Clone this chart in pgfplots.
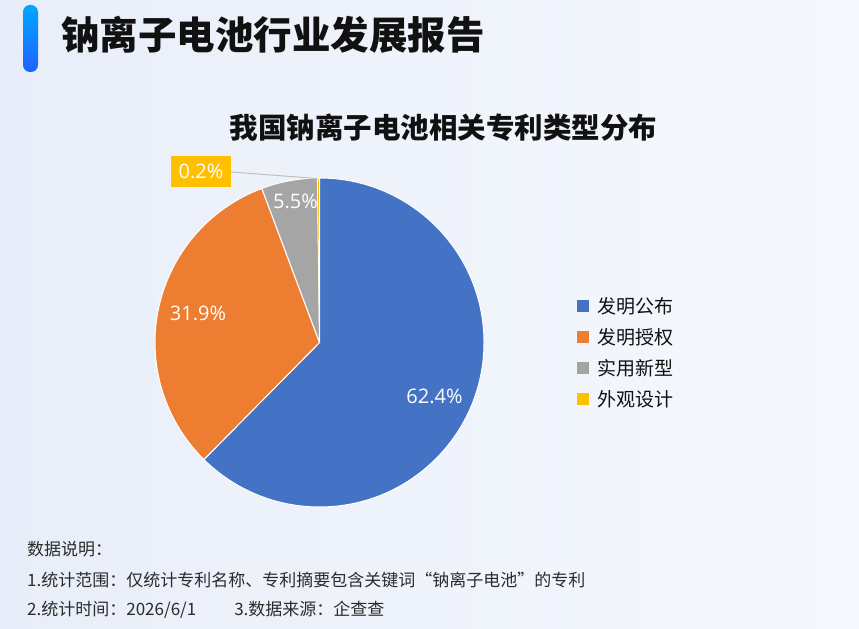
\documentclass[border=0pt]{standalone}
\usepackage{pgfplots}
\pgfplotsset{compat=1.18}
\usepackage{pgfplotstable}
\usepackage{fontspec}
\setmainfont{Noto Sans CJK SC}
\newfontfamily\lab{Open Sans}
\definecolor{cBlue}{HTML}{4472C4}
\definecolor{cOrange}{HTML}{ED7D31}
\definecolor{cGray}{HTML}{A5A5A5}
\definecolor{cYellow}{HTML}{FFC000}
\definecolor{bgL}{HTML}{E8EEF9}
\definecolor{bgR}{HTML}{F6F8FD}
\definecolor{barTop}{HTML}{00A6FF}
\definecolor{barBot}{HTML}{1F63FF}
\definecolor{txt}{HTML}{111111}
\definecolor{note}{HTML}{2B2B2B}
\pgfplotstableread{
pct
62.4
31.9
5.5
0.2
}\piedata
\begin{document}%
\begin{tikzpicture}
\pgfplotstablegetelem{0}{pct}\of\piedata\let\pA\pgfplotsretval
\pgfplotstablegetelem{1}{pct}\of\piedata\let\pB\pgfplotsretval
\pgfplotstablegetelem{2}{pct}\of\piedata\let\pC\pgfplotsretval
\pgfplotstablegetelem{3}{pct}\of\piedata\let\pD\pgfplotsretval
\pgfmathsetmacro\aA{90-3.6*\pA}
\pgfmathsetmacro\aB{\aA-3.6*\pB}
\pgfmathsetmacro\aC{\aB-3.6*\pC}
\pgfmathsetmacro\aD{\aC-3.6*\pD}
\useasboundingbox (0,0) rectangle (859bp,629bp);
\shade[left color=bgL, right color=bgR] (0,0) rectangle (859bp,629bp);
% title bar
\shade[top color=barTop, bottom color=barBot, rounded corners=7bp] (23bp,557bp) rectangle (38bp,624bp);
\node[anchor=west, inner sep=0pt, text=txt, font=\fontsize{38.5bp}{40bp}\selectfont\bfseries] at (61bp,594bp) {钠离子电池行业发展报告};
% chart title
\node[inner sep=0pt, text=txt, font=\fontsize{28.5bp}{30bp}\selectfont\bfseries] at (443.5bp,501.5bp) {我国钠离子电池相关专利类型分布};
% notes
\node[anchor=west, inner sep=0pt, text=note, font=\fontsize{17bp}{18bp}\selectfont] at (27bp,80bp) {数据说明：};
\node[anchor=west, inner sep=0pt, text=note, font=\fontsize{17bp}{18bp}\selectfont] at (27bp,49bp) {1.统计范围：仅统计专利名称、专利摘要包含关键词“钠离子电池”的专利};
\node[anchor=west, inner sep=0pt, text=note, font=\fontsize{17bp}{18bp}\selectfont] at (27bp,19bp) {2.统计时间：2026/6/1\hspace{38bp}3.数据来源：企查查};
\begin{axis}[
  at={(319.5bp,286.5bp)}, anchor=center,
  x=164.5bp, y=164.5bp,
  xmin=-1.1, xmax=1.1, ymin=-1.1, ymax=1.1,
  hide axis, clip=false,
  legend image code/.code={\fill[#1] (0bp,-6bp) rectangle (12bp,6bp);},
  legend style={at={(1.2113,0.625)}, anchor=north west, draw=none, fill=none,
    inner sep=0pt, row sep=13.5bp, column sep=8bp,
    font=\fontsize{19bp}{20bp}\selectfont,
    nodes={inner sep=0pt, anchor=west, text=txt}},
]
\addlegendimage{fill=cBlue, draw=none}
\addlegendentry{发明公布}
\addlegendimage{fill=cOrange, draw=none}
\addlegendentry{发明授权}
\addlegendimage{fill=cGray, draw=none}
\addlegendentry{实用新型}
\addlegendimage{fill=cYellow, draw=none}
\addlegendentry{外观设计}
\fill[cBlue, draw=white, line width=1bp, line join=round] (axis cs:0,0) -- (axis cs:{cos(90)},{sin(90)}) arc[start angle=90, end angle=\aA, radius=164.5bp] -- cycle;
\fill[cOrange, draw=white, line width=1bp, line join=round] (axis cs:0,0) -- (axis cs:{cos(\aA)},{sin(\aA)}) arc[start angle=\aA, end angle=\aB, radius=164.5bp] -- cycle;
\fill[cGray, draw=white, line width=1bp, line join=round] (axis cs:0,0) -- (axis cs:{cos(\aB)},{sin(\aB)}) arc[start angle=\aB, end angle=\aC, radius=164.5bp] -- cycle;
\fill[cYellow, draw=white, line width=0.6bp, line join=round] (axis cs:0,0) -- (axis cs:{cos(\aC)},{sin(\aC)}) arc[start angle=\aC, end angle=\aD, radius=164.5bp] -- cycle;
% leader line for small slice
\draw[color=black!25, line width=1bp] (axis cs:-0.538,1.0365) -- (axis cs:-0.0152,0.997);
% data labels
\node[text=white, font=\lab\fontsize{20bp}{21bp}\selectfont] at (axis cs:0.699,-0.325) {62.4\%};
\node[text=white, font=\lab\fontsize{20bp}{21bp}\selectfont] at (axis cs:-0.739,0.179) {31.9\%};
\node[text=white, font=\lab\fontsize{20bp}{21bp}\selectfont] at (axis cs:-0.146,0.856) {5.5\%};
\node[fill=cYellow, text=white, minimum width=60bp, minimum height=31bp, inner sep=0pt, font=\lab\fontsize{20bp}{21bp}\selectfont] at (axis cs:-0.720,1.0395) {0.2\%};
\end{axis}
\end{tikzpicture}%
\end{document}
